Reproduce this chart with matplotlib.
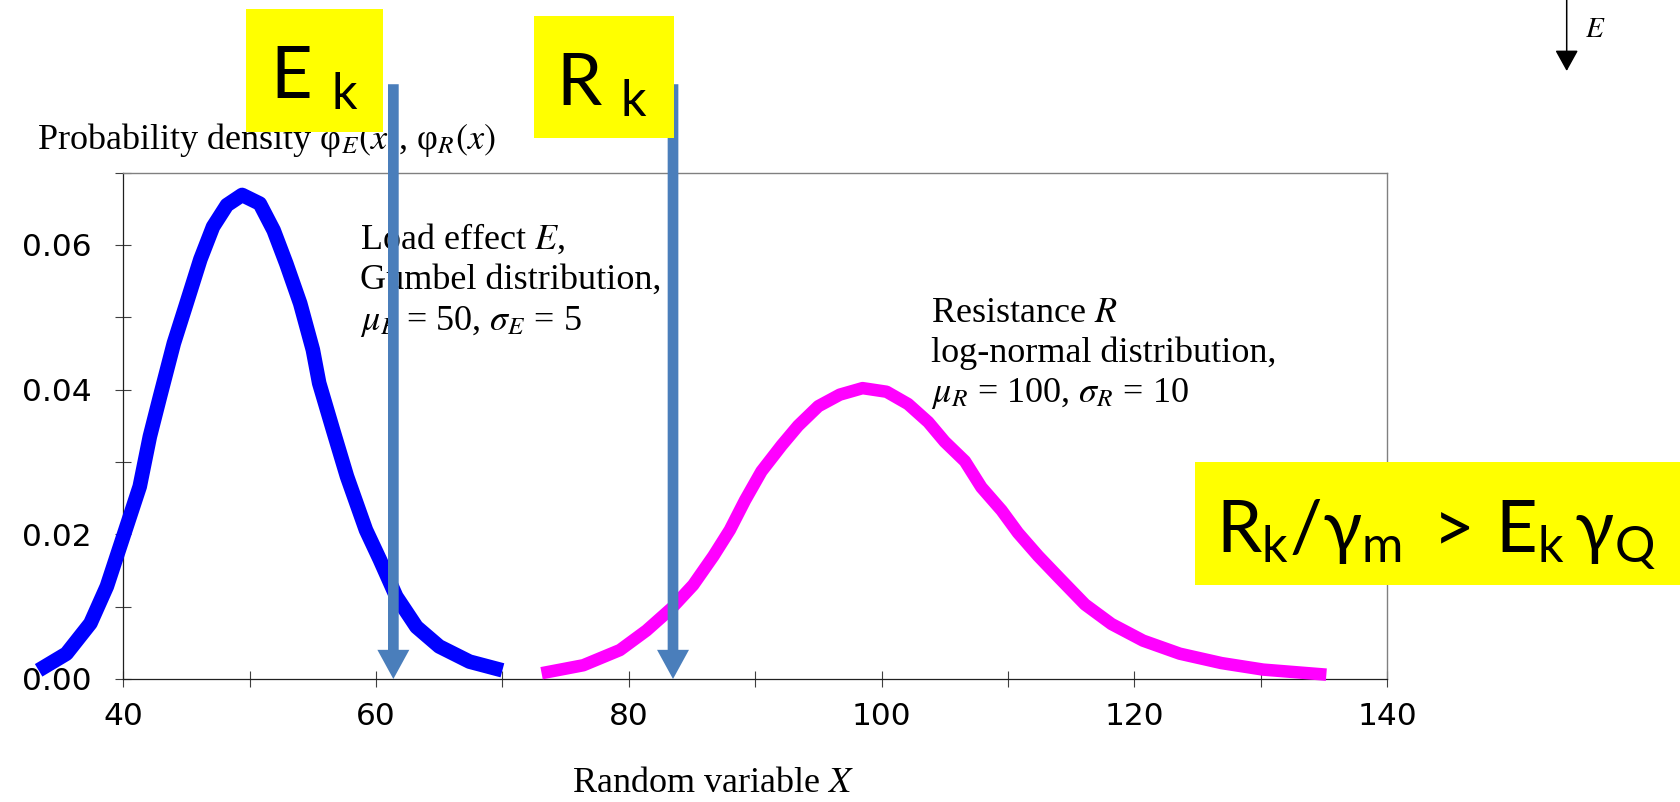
import numpy as np
import matplotlib.pyplot as plt
from matplotlib.ticker import MultipleLocator, FormatStrFormatter
from matplotlib.patches import Rectangle, FancyArrowPatch

plt.rcParams['mathtext.fontset'] = 'custom'
plt.rcParams['mathtext.rm'] = 'Lato'
plt.rcParams['mathtext.it'] = 'Lato:italic'

# load effect E
x_E = [33.3, 35.5, 37.4, 38.7, 40.0, 41.3, 42.1, 42.9, 44.0, 45.0, 46.1, 47.1, 48.2, 49.4,
       50.8, 51.9, 52.9, 54.0, 55.0, 55.5, 56.6, 57.7, 59.2, 60.3, 61.6, 63.2, 65.0, 67.4, 70.0]
pdf_E = [0.0012, 0.0035, 0.0077, 0.0128, 0.0197, 0.0266, 0.0335, 0.0390, 0.0464, 0.0519,
         0.0580, 0.0625, 0.0655, 0.0669, 0.0657, 0.0620, 0.0574, 0.0519, 0.0455, 0.0409,
         0.0344, 0.0280, 0.0206, 0.0165, 0.0114, 0.0072, 0.0045, 0.0024, 0.0012]

# resistance R
x_R = [73.1, 76.4, 79.3, 81.4, 83.4, 85.1, 86.7, 88.0, 89.2, 90.5, 92.1, 93.4, 95.0, 96.7,
       98.5, 100.4, 102.1, 103.7, 105.0, 106.6, 107.9, 109.5, 110.8, 112.4, 114.1, 116.1,
       118.2, 120.7, 123.6, 126.9, 130.2, 135.2]
pdf_R = [0.0008, 0.0019, 0.0040, 0.0067, 0.0098, 0.0130, 0.0170, 0.0206, 0.0247, 0.0287,
         0.0323, 0.0350, 0.0377, 0.0393, 0.0402, 0.0397, 0.0380, 0.0355, 0.0328, 0.0301,
         0.0265, 0.0233, 0.0202, 0.0170, 0.0139, 0.0103, 0.0076, 0.0053, 0.0035, 0.0022,
         0.0013, 0.0006]

E_k = 61.37
R_k = 83.5
arrow_top = 0.0822

W, H = 1680, 802
def fx(p):
    return p / W
def fy(p):
    return 1 - p / H

fig = plt.figure(figsize=(16.8, 8.02), dpi=100)
ax = fig.add_axes([fx(123.3), fy(679), (1387 - 123.3) / W, (679 - 172.5) / H])

ax.plot(x_E, pdf_E, color='#0000FF', lw=10.5, clip_on=False, zorder=3,
        solid_capstyle='butt', solid_joinstyle='round')
ax.plot(x_R, pdf_R, color='#FF00FF', lw=9, clip_on=False, zorder=3,
        solid_capstyle='butt', solid_joinstyle='round')

for xk in [E_k, R_k]:
    ax.annotate('', xy=(xk, 0), xytext=(xk, arrow_top), xycoords='data',
                arrowprops=dict(arrowstyle='simple,head_length=2.1,head_width=2.3,tail_width=0.77',
                                mutation_scale=10, color='#4A7EBB', lw=0, shrinkA=0, shrinkB=0),
                annotation_clip=False, zorder=5)

ax.set_xlim(40, 140)
ax.set_ylim(0, 0.07)
ax.xaxis.set_major_locator(MultipleLocator(20))
ax.xaxis.set_minor_locator(MultipleLocator(10))
ax.yaxis.set_major_locator(MultipleLocator(0.02))
ax.yaxis.set_minor_locator(MultipleLocator(0.01))
ax.yaxis.set_major_formatter(FormatStrFormatter('%.2f'))
ax.tick_params(which='both', direction='inout', length=12, width=0.8, color='#404040')
ax.tick_params(axis='y', which='major', labelsize=22.5, pad=17)
ax.tick_params(axis='x', which='major', labelsize=22.5, pad=10.5)
for lab in ax.get_xticklabels() + ax.get_yticklabels():
    lab.set_family('DejaVu Sans')
for s in ['top', 'right']:
    ax.spines[s].set_color('#808080')
    ax.spines[s].set_linewidth(1.0)
for s in ['left', 'bottom']:
    ax.spines[s].set_color('#202020')
    ax.spines[s].set_linewidth(0.9)

serif = dict(family='Liberation Serif', fontsize=26, math_fontfamily='stix',
             transform=fig.transFigure, va='baseline', clip_on=False, zorder=4)

ax.text(fx(37), fy(149), 'Probability density φ${}_{E}(x)$, φ${}_{R}(x)$', **serif)
ax.text(fx(360), fy(249), 'Load effect $E$,', **serif)
ax.text(fx(360), fy(289), 'Gumbel distribution,', **serif)
ax.text(fx(360), fy(330), r'$\mu_E$ = 50, $\sigma_E$ = 5', **serif)
ax.text(fx(931), fy(322), 'Resistance $R$', **serif)
ax.text(fx(931), fy(362), 'log-normal distribution,', **serif)
ax.text(fx(931), fy(402), r'$\mu_R$ = 100, $\sigma_R$ = 10', **serif)
ax.text(fx(713), fy(792), 'Random variable $X$', ha='center', **serif)

# yellow labels
for (x0, y0, x1, y1) in [(246, 9, 383, 132), (534, 16, 674, 138), (1195, 462, 1680, 585)]:
    fig.add_artist(Rectangle((fx(x0), fy(y1)), (x1 - x0) / W, (y1 - y0) / H,
                             transform=fig.transFigure, facecolor='#FFFF00',
                             edgecolor='none', zorder=6))

box_txt = dict(fontsize=52, math_fontfamily='custom', va='baseline', ha='left', zorder=7)
fig.text(fx(270), fy(99), r'$\mathrm{E}\ {}_\mathrm{k}$', **box_txt)
fig.text(fx(556), fy(106), r'$\mathrm{R}\ {}_\mathrm{k}$', **box_txt)
fig.text(fx(1216), fy(552), r'$\mathrm{R_k/\gamma_m\;>\,E_k\,\gamma_Q}$',
         fontsize=52, math_fontfamily='custom', va='baseline', ha='left', zorder=7)

# small E arrow, top right
fig.add_artist(FancyArrowPatch((fx(1566.7), fy(0)), (fx(1566.7), fy(71)),
                               transform=fig.transFigure,
                               arrowstyle='-|>,head_length=1.3,head_width=0.72',
                               mutation_scale=10, lw=1.1, color='black',
                               shrinkA=0, shrinkB=0))
fig.text(fx(1585), fy(37), '$E$', fontsize=21, math_fontfamily='stix', va='baseline')

fig.savefig('out.png', dpi=100)
